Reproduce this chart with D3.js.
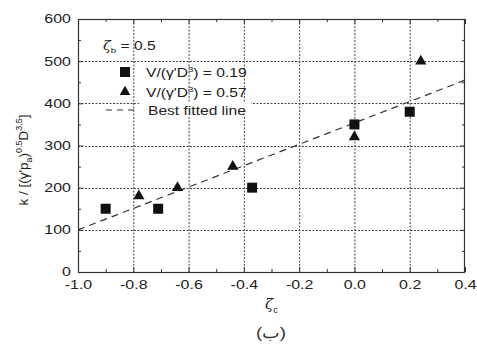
<!DOCTYPE html>
<html>
<head>
<meta charset="utf-8">
<script src="https://cdn.jsdelivr.net/npm/d3@7"></script>
<style>
  html, body { margin: 0; padding: 0; background: #fff; }
  svg { display: block; font-family: "Liberation Sans", Arial, sans-serif; }
  /* the figure's lettering is set slightly extended */
  .wide { transform-box: fill-box; transform: scaleX(1.25); }
  .wide-c { transform-origin: center; }
  .wide-l { transform-origin: left; }
  .wide-r { transform-origin: right; }
</style>
</head>
<body>
<svg id="chart" width="477" height="346"></svg>
<script>
// Series: V/(γ'D³) = 0.19 (squares)
const zetaC_019 = [-0.90, -0.71, -0.37, 0.00, 0.20];
const k_019     = [150, 150, 200, 350, 380];
// Series: V/(γ'D³) = 0.57 (triangles)
const zetaC_057 = [-0.78, -0.64, -0.44, 0.00, 0.24];
const k_057     = [180, 200, 250, 320, 500];
// Best fitted line end points
const fitX = [-1.0, 0.4];
const fitY = [100, 455];

const xTicks = [-1.0, -0.8, -0.6, -0.4, -0.2, 0.0, 0.2, 0.4];
const yTicks = [0, 100, 200, 300, 400, 500, 600];
const xMinor = [-0.9, -0.7, -0.5, -0.3, -0.1, 0.1, 0.3];
const yMinor = [50, 150, 250, 350, 450, 550];

const svg = d3.select("#chart");
const m = { left: 78, right: 465, top: 19, bottom: 272 };

const x = d3.scaleLinear().domain([-1.0, 0.4]).range([m.left, m.right]);
const y = d3.scaleLinear().domain([0, 600]).range([m.bottom, m.top]);

// Grid lines (dotted) at major ticks
const grid = svg.append("g").attr("stroke", "#444").attr("stroke-width", 1)
  .attr("stroke-dasharray", "2,1.5").attr("fill", "none");
xTicks.slice(1, -1).forEach(t => {
  grid.append("line").attr("x1", x(t) + 0.5).attr("x2", x(t) + 0.5)
    .attr("y1", m.top).attr("y2", m.bottom);
});
yTicks.slice(1, -1).forEach(t => {
  grid.append("line").attr("y1", Math.round(y(t)) + 0.5).attr("y2", Math.round(y(t)) + 0.5)
    .attr("x1", m.left).attr("x2", m.right);
});

// Axes with inward ticks on all four sides
const fmtX = d => d3.format(".1f")(d).replace("\u2212", "-");
function styleAxis(g) {
  g.select(".domain").remove();
  g.selectAll("line").attr("stroke", "#333");
  g.selectAll("text").attr("fill", "#222").attr("font-size", 12);
}
svg.append("g").attr("transform", `translate(0,${m.bottom})`)
  .call(d3.axisBottom(x).tickValues(xTicks).tickSize(-5).tickPadding(8).tickFormat(fmtX))
  .call(styleAxis)
  .selectAll("text").attr("class", "wide wide-c").style("transform", "scaleX(1.33)");
svg.append("g").attr("transform", `translate(0,${m.bottom})`)
  .call(d3.axisBottom(x).tickValues(xMinor).tickSize(-3).tickFormat(""))
  .call(styleAxis);
svg.append("g").attr("transform", `translate(0,${m.top})`)
  .call(d3.axisTop(x).tickValues(xTicks).tickSize(-5).tickFormat(""))
  .call(styleAxis);
svg.append("g").attr("transform", `translate(0,${m.top})`)
  .call(d3.axisTop(x).tickValues(xMinor).tickSize(-3).tickFormat(""))
  .call(styleAxis);
svg.append("g").attr("transform", `translate(${m.left},0)`)
  .call(d3.axisLeft(y).tickValues(yTicks).tickSize(-5).tickPadding(7).tickFormat(d3.format("d")))
  .call(styleAxis)
  .selectAll("text").attr("class", "wide wide-r").style("transform", "scaleX(1.33)");
svg.append("g").attr("transform", `translate(${m.left},0)`)
  .call(d3.axisLeft(y).tickValues(yMinor).tickSize(-3).tickFormat(""))
  .call(styleAxis);
svg.append("g").attr("transform", `translate(${m.right},0)`)
  .call(d3.axisRight(y).tickValues(yTicks).tickSize(-5).tickFormat(""))
  .call(styleAxis);
svg.append("g").attr("transform", `translate(${m.right},0)`)
  .call(d3.axisRight(y).tickValues(yMinor).tickSize(-3).tickFormat(""))
  .call(styleAxis);

// Frame
svg.append("rect").attr("x", m.left + 0.5).attr("y", m.top + 0.5)
  .attr("width", m.right - m.left - 1).attr("height", m.bottom - m.top)
  .attr("fill", "none").attr("stroke", "#333").attr("stroke-width", 1.2);

// Legend
const leg = svg.append("g").attr("font-size", 13).attr("fill", "#222");
leg.append("rect").attr("x", 139).attr("y", 103).attr("width", 112).attr("height", 14).attr("fill", "#fff");
const zb = leg.append("text").attr("x", 103).attr("y", 50).attr("class", "wide wide-l").style("transform", "scaleX(1.2)");
zb.append("tspan").text("ζ").attr("font-style", "italic").attr("font-family", "DejaVu Serif, serif").attr("font-size", 12);
zb.append("tspan").text("b").attr("font-size", 8).attr("dy", 3);
zb.append("tspan").text(" = 0.5").attr("dy", -3);

leg.append("rect").attr("x", 120).attr("y", 67).attr("width", 10).attr("height", 10).attr("fill", "#111");
const l1 = leg.append("text").attr("x", 146).attr("y", 77).attr("class", "wide wide-l").style("transform", "scaleX(1.2)");
l1.append("tspan").text("V/(γ'D");
l1.append("tspan").text("3").attr("font-size", 8).attr("dy", -5);
l1.append("tspan").text(") = 0.19").attr("dy", 5);

leg.append("path").attr("d", d3.symbol(d3.symbolTriangle, 50)()).attr("transform", "translate(125,92)").attr("fill", "#111");
const l2 = leg.append("text").attr("x", 146).attr("y", 97).attr("class", "wide wide-l").style("transform", "scaleX(1.2)");
l2.append("tspan").text("V/(γ'D");
l2.append("tspan").text("3").attr("font-size", 8).attr("dy", -5);
l2.append("tspan").text(") = 0.57").attr("dy", 5);

leg.append("line").attr("x1", 106).attr("x2", 138).attr("y1", 110).attr("y2", 110)
  .attr("stroke", "#333").attr("stroke-width", 1.2).attr("stroke-dasharray", "6,5");
leg.append("text").attr("x", 148).attr("y", 115).text("Best fitted line")
  .attr("class", "wide wide-l").style("transform", "scaleX(1.2)");

// Best fitted line
svg.append("line")
  .attr("x1", x(fitX[0])).attr("y1", y(fitY[0]))
  .attr("x2", x(fitX[1])).attr("y2", y(fitY[1]))
  .attr("stroke", "#333").attr("stroke-width", 1.2).attr("stroke-dasharray", "7,5");

// Markers
const sq = 10;
svg.append("g").selectAll("rect").data(zetaC_019.map((d, i) => [d, k_019[i]])).join("rect")
  .attr("x", d => x(d[0]) - sq / 2).attr("y", d => y(d[1]) - sq / 2)
  .attr("width", sq).attr("height", sq).attr("fill", "#111");
svg.append("g").selectAll("path").data(zetaC_057.map((d, i) => [d, k_057[i]])).join("path")
  .attr("d", d3.symbol(d3.symbolTriangle, 55)())
  .attr("transform", d => `translate(${x(d[0])},${y(d[1])})`).attr("fill", "#111");

// Axis titles
const yl = svg.append("text").attr("transform", "translate(28,160) rotate(-90)")
  .attr("text-anchor", "middle").attr("font-size", 13.5).attr("fill", "#222");
yl.append("tspan").text("k / [(γ'p");
yl.append("tspan").text("a").attr("font-size", 9).attr("dy", 4);
yl.append("tspan").text(")").attr("dy", -4);
yl.append("tspan").text("0.5").attr("font-size", 9).attr("dy", -6);
yl.append("tspan").text("D").attr("dy", 6);
yl.append("tspan").text("3.5").attr("font-size", 9).attr("dy", -6);
yl.append("tspan").text("]").attr("dy", 6);

const xl = svg.append("text").attr("x", 265).attr("y", 309).attr("fill", "#222").attr("font-size", 15);
xl.append("tspan").text("ζ").attr("font-style", "italic").attr("font-family", "DejaVu Serif, serif");
xl.append("tspan").text("c").attr("font-size", 9).attr("dy", 4);

svg.append("text").attr("x", 271).attr("y", 338).attr("text-anchor", "middle")
  .attr("font-size", 15).attr("fill", "#333").text("(ب)")
  .attr("class", "wide wide-c").style("transform", "scaleX(1.25)");
</script>
</body>
</html>
